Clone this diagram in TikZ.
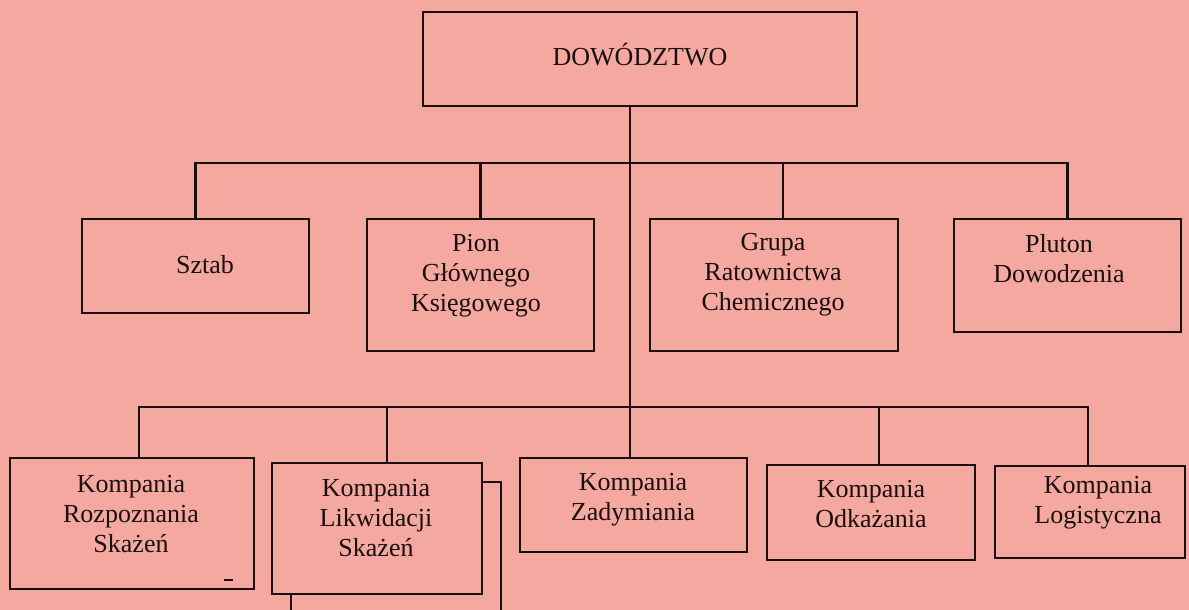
\documentclass[tikz,border=0pt]{standalone}
\usepackage{fontspec}
\setmainfont{Liberation Serif}
\definecolor{bgpink}{RGB}{244,168,160}
\definecolor{ink}{RGB}{25,15,15}
\begin{document}
\begin{tikzpicture}[x=1pt,y=-1pt,
  box/.style={draw=ink, line width=2.3pt, rectangle, inner sep=0pt, outer sep=0pt},
  lbl/.style={text=ink, align=center, inner sep=0pt, font=\fontsize{26}{30}\selectfont},
  conn/.style={draw=ink, line width=2.3pt}]
\useasboundingbox (0,0) rectangle (1189,610);
\fill[bgpink] (0,0) rectangle (1189,610);

% boxes
\node[box, minimum width=434pt, minimum height=94pt] (dow) at (640,59) {};
\node[box, minimum width=227pt, minimum height=94pt] (sztab) at (195.5,266) {};
\node[box, minimum width=227pt, minimum height=132pt] (pion) at (480.5,285) {};
\node[box, minimum width=248pt, minimum height=132pt] (grupa) at (774,285) {};
\node[box, minimum width=227pt, minimum height=113pt] (pluton) at (1067.5,275.5) {};
\node[box, minimum width=244pt, minimum height=131pt] (rozp) at (132,523.5) {};
\node[box, minimum width=210pt, minimum height=131pt] (likw) at (377,528.5) {};
\node[box, minimum width=227pt, minimum height=94pt] (zady) at (633.5,505) {};
\node[box, minimum width=208pt, minimum height=95pt] (odk) at (871,512.5) {};
\node[box, minimum width=190pt, minimum height=92pt] (logi) at (1090,512) {};

% labels
\node[lbl] (tdow) at (640,55) {DOWÓDZTWO};
\node[lbl] (tsztab) at (205,265) {Sztab};
\node[lbl] (tpion) at (476,276) {Pion\\Głównego\\Księgowego};
\node[lbl] (tgrupa) at (773,275) {Grupa\\Ratownictwa\\Chemicznego};
\node[lbl] (tpluton) at (1059,259) {Pluton\\Dowodzenia};
\node[lbl] (trozp) at (131,514) {Kompania\\Rozpoznania\\Skażeń};
\node[lbl] (tlikw) at (376,518) {Kompania\\Likwidacji\\Skażeń};
\node[lbl] (tzady) at (633,500) {Kompania\\Zadymiania};
\node[lbl] (todk) at (871,504) {Kompania\\Odkażania};
\node[lbl] (tlogi) at (1098,503) {Kompania\\Logistyczna};

% bus coordinates
\coordinate (bus1) at (630,163);
\coordinate (bus2) at (630,407);
\coordinate (edgeR) at (501,610);
\coordinate (edgeL) at (291,610);

% trunk
\draw[conn] (dow.south -| bus1) -- (zady.north -| bus2);

% top level
\draw[conn] (sztab.north) |- (bus1) -| (pluton.north);
\draw[conn] (pion.north) -- (pion.north |- bus1);
\draw[conn] ([xshift=9pt]grupa.north) -- ([xshift=9pt]grupa.north |- bus1);

% bottom level
\draw[conn] ([xshift=7pt]rozp.north) |- (bus2) -| ([xshift=-2pt]logi.north);
\draw[conn] ([xshift=10pt]likw.north) -- ([xshift=10pt]likw.north |- bus2);
\draw[conn] ([xshift=8pt]odk.north) -- ([xshift=8pt]odk.north |- bus2);

% continuation behind Kompania Likwidacji Skażeń
\draw[conn] ([yshift=-19pt]likw.north east) -| (edgeR);
\draw[conn] (likw.south -| edgeL) -- (edgeL);

% small mark
\draw[ink, line width=1.5pt] (224,580) -- (233,580);
\end{tikzpicture}
\end{document}
